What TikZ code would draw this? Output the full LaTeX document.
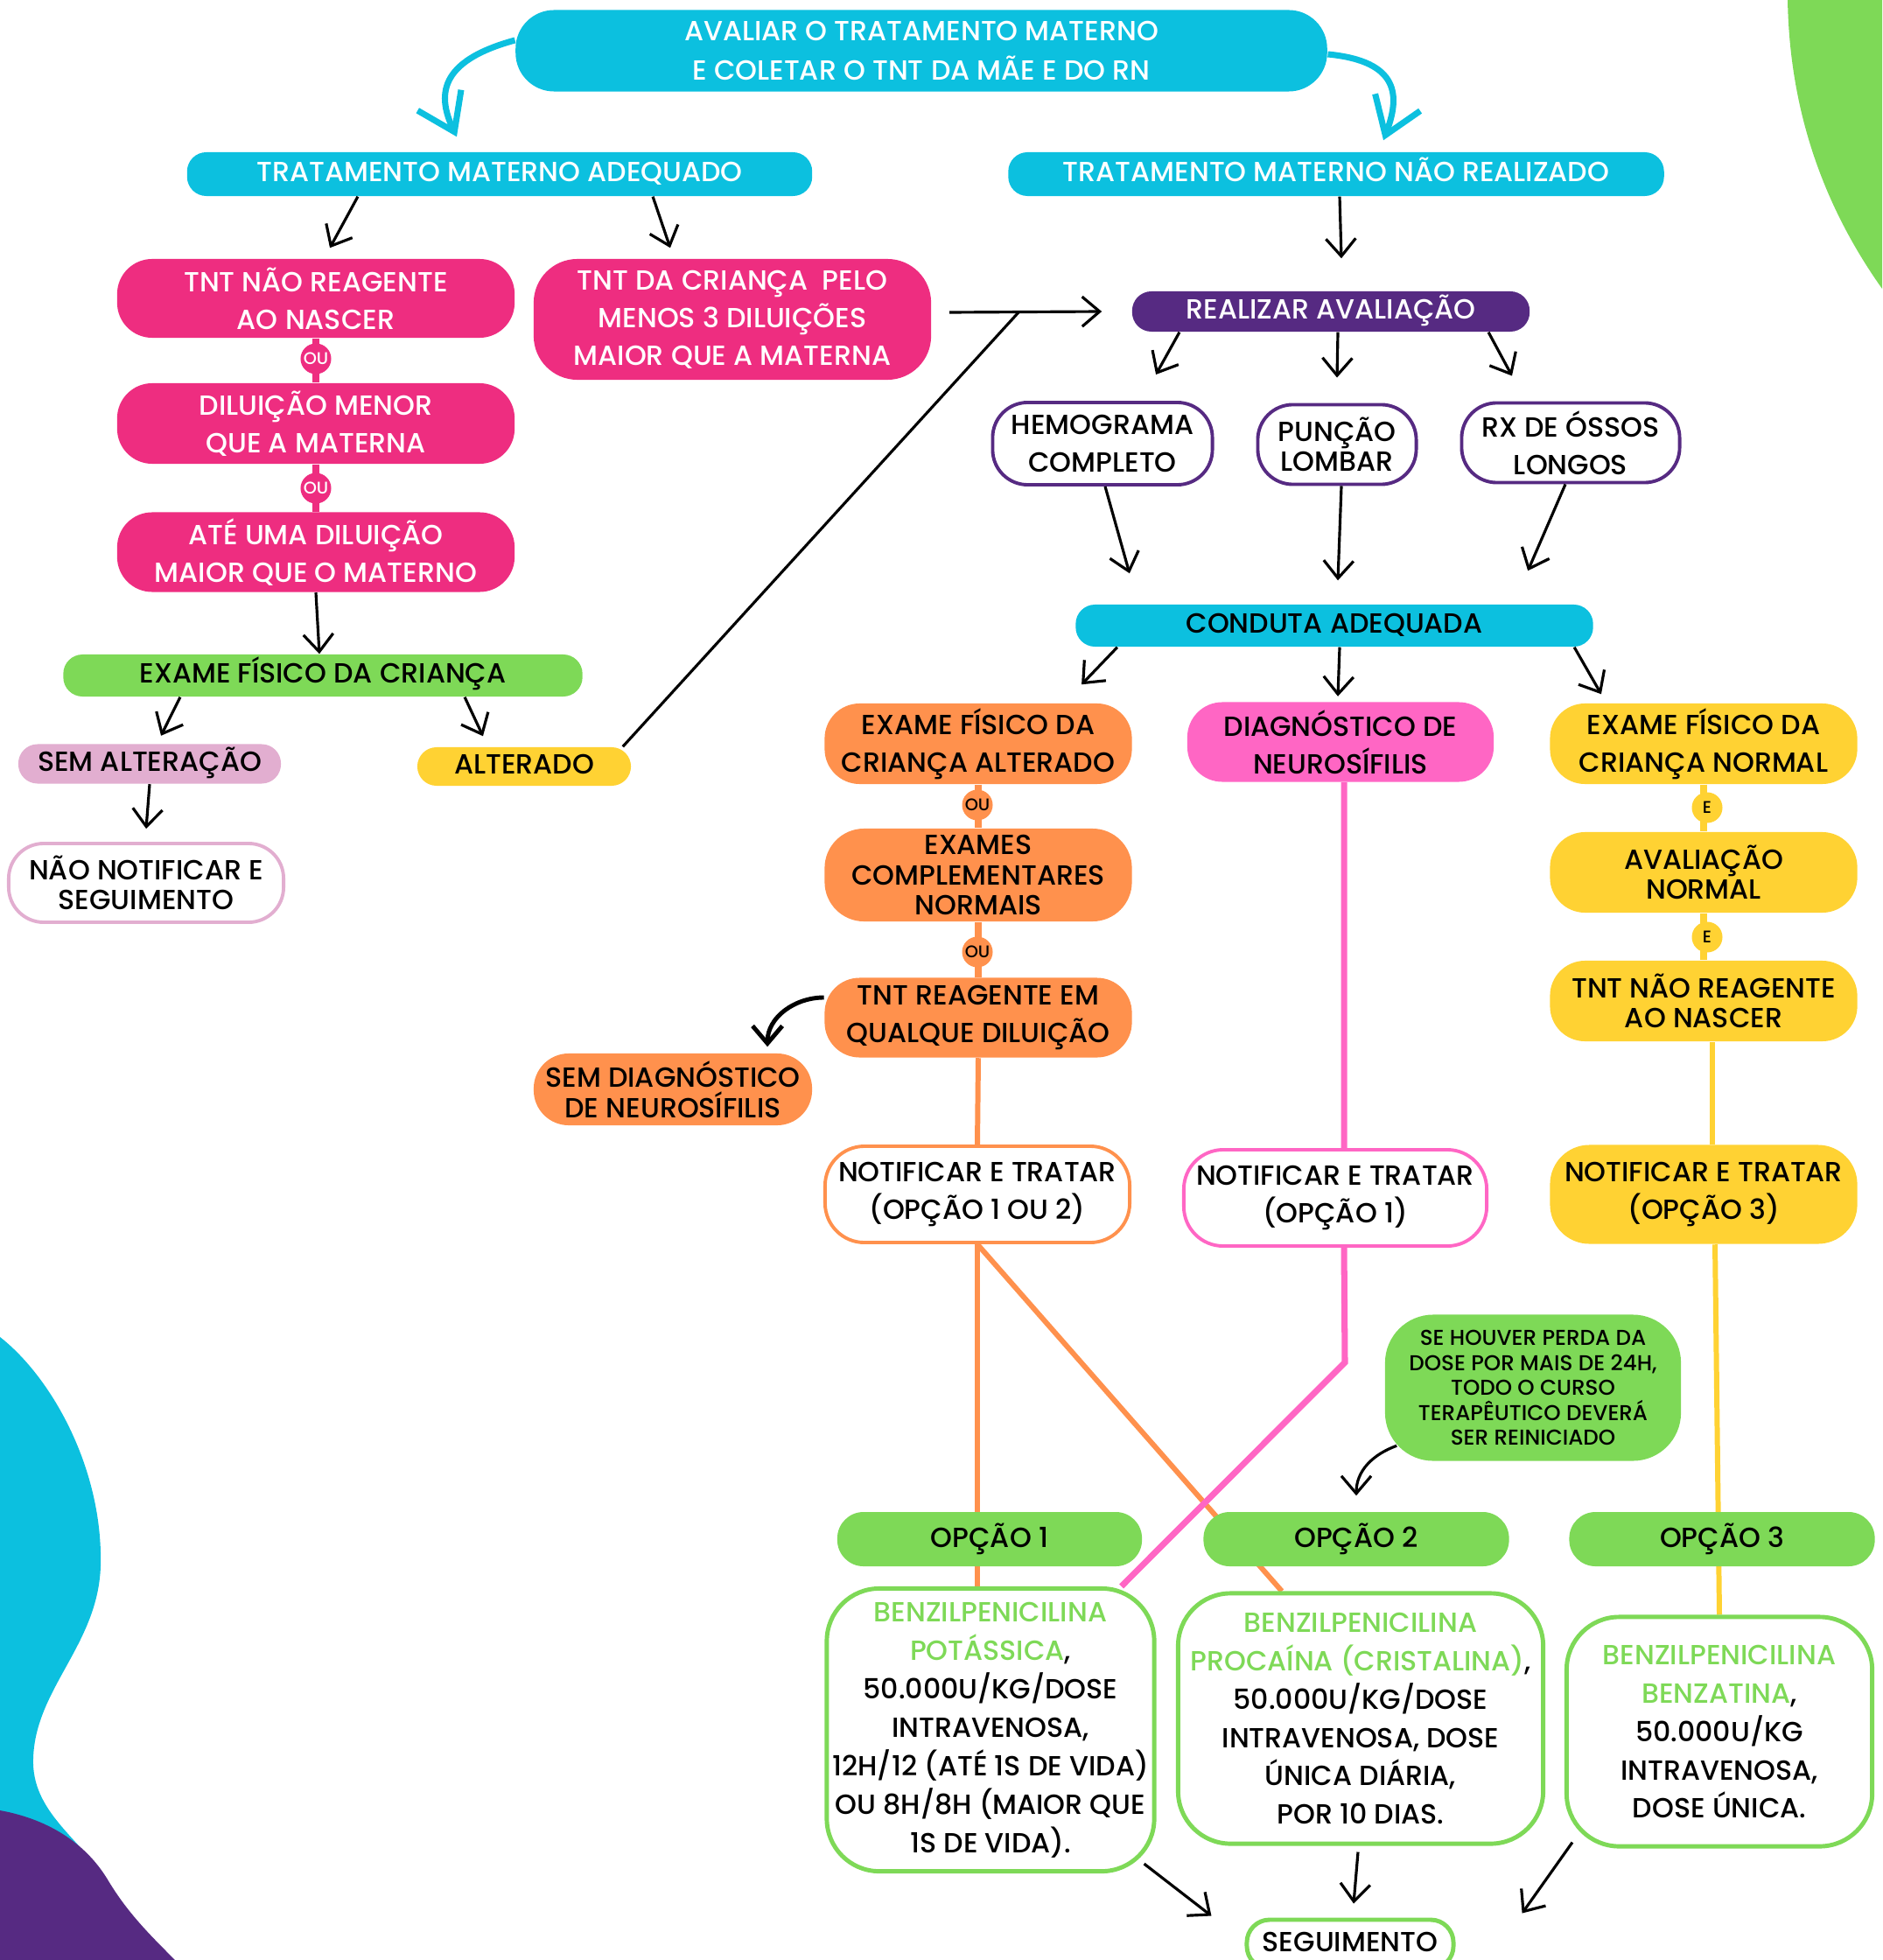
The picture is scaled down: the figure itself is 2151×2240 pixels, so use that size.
\documentclass[tikz,border=0pt]{standalone}
\usepackage{fontspec}
\setmainfont{Poppins}[UprightFont={* Medium}]
\usetikzlibrary{arrows.meta,backgrounds}

\definecolor{ciano}{HTML}{0CC0DF}
\definecolor{rosa}{HTML}{EE2D80}
\definecolor{rosaclaro}{HTML}{FF66C4}
\definecolor{verde}{HTML}{7ED957}
\definecolor{amarelo}{HTML}{FFD233}
\definecolor{laranja}{HTML}{FF914D}
\definecolor{roxo}{HTML}{562A82}
\definecolor{lilas}{HTML}{E2AED0}

\begin{document}
\begin{tikzpicture}[x=0.01cm, y=-0.01cm,
  box/.style={rectangle, rounded corners=0.4cm, align=center, inner sep=0pt, font=\fontsize{9}{12.2}\selectfont},
  pill/.style={box, rounded corners=0.22cm, text height=6.6pt, text depth=1.6pt},
  tight/.style={font=\fontsize{9}{9.8}\selectfont},
  conn/.style={circle, inner sep=0pt, minimum size=0.35cm, font=\fontsize{5.5}{6}\selectfont},
  arr/.style={draw=black, line width=0.9pt, -{Straight Barb[length=0.2cm,width=0.34cm]}},
  cyarr/.style={draw=ciano, line width=2pt, -{Straight Barb[length=0.4cm,width=0.55cm]}},
  ]
\useasboundingbox (0,0) rectangle (2151,2240);

% topo
\node[box, fill=ciano, text=white, rounded corners=0.44cm, minimum width=9.27cm, minimum height=0.93cm, font=\fontsize{9}{12.6}\selectfont] (top) at (1053,58) {AVALIAR O TRATAMENTO MATERNO\\E COLETAR O TNT DA MÃE E DO RN};
\node[pill, fill=ciano, text=white, minimum width=7.14cm, minimum height=0.5cm] (tma) at (571,199) {TRATAMENTO MATERNO ADEQUADO};
\node[pill, fill=ciano, text=white, minimum width=7.49cm, minimum height=0.5cm] (tmn) at (1527,199) {TRATAMENTO MATERNO NÃO REALIZADO};

% ramo adequado
\node[box, fill=rosa, text=white, minimum width=4.54cm, minimum height=0.9cm] (tnr) at (361,341) {TNT NÃO REAGENTE\\AO NASCER};
\node[box, fill=rosa, text=white, rounded corners=0.5cm, minimum width=4.54cm, minimum height=1.38cm] (tdc) at (837,365) {TNT DA CRIANÇA \ PELO\\MENOS 3 DILUIÇÕES\\MAIOR QUE A MATERNA};
\node[box, fill=rosa, text=white, minimum width=4.54cm, minimum height=0.92cm] (dil) at (361,484) {DILUIÇÃO MENOR\\QUE A MATERNA};
\node[box, fill=rosa, text=white, minimum width=4.54cm, minimum height=0.91cm] (ate) at (361,631) {ATÉ UMA DILUIÇÃO\\MAIOR QUE O MATERNO};
\node[conn, fill=rosa, text=white] (ou1) at (361,410) {OU};
\node[conn, fill=rosa, text=white] (ou2) at (361,558) {OU};
\node[pill, fill=verde, minimum width=5.93cm, minimum height=0.48cm] (efc) at (369,772) {EXAME FÍSICO DA CRIANÇA};
\node[pill, fill=lilas, minimum width=3.0cm, minimum height=0.45cm] (sa) at (171,873) {SEM ALTERAÇÃO};
\node[pill, fill=amarelo, minimum width=2.44cm, minimum height=0.44cm] (alt) at (599,876) {ALTERADO};
\node[box, tight, fill=white, draw=lilas, line width=1.1pt, minimum width=3.14cm, minimum height=0.9cm] (nn) at (167,1009) {NÃO NOTIFICAR E\\SEGUIMENTO};

% ramo nao realizado
\node[pill, fill=roxo, text=white, minimum width=4.54cm, minimum height=0.46cm] (real) at (1521,356) {REALIZAR AVALIAÇÃO};
\node[box, fill=white, draw=roxo, line width=1.1pt, minimum width=2.51cm, minimum height=0.94cm] (hem) at (1260,507) {HEMOGRAMA\\COMPLETO};
\node[box, tight, fill=white, draw=roxo, line width=1.1pt, minimum width=1.81cm, minimum height=0.91cm] (pun) at (1528,508) {PUNÇÃO\\LOMBAR};
\node[box, fill=white, draw=roxo, line width=1.1pt, minimum width=2.49cm, minimum height=0.91cm] (rx) at (1795,506) {RX DE ÓSSOS\\LONGOS};
\node[pill, fill=ciano, minimum width=5.91cm, minimum height=0.48cm] (cond) at (1525,715) {CONDUTA ADEQUADA};

% coluna laranja
\node[box, fill=laranja, minimum width=3.51cm, minimum height=0.92cm] (efa) at (1118,850) {EXAME FÍSICO DA\\CRIANÇA ALTERADO};
\node[box, tight, fill=laranja, rounded corners=0.45cm, minimum width=3.51cm, minimum height=1.06cm] (ece) at (1118,1000) {EXAMES\\COMPLEMENTARES\\NORMAIS};
\node[box, fill=laranja, minimum width=3.51cm, minimum height=0.91cm] (tntr) at (1118,1163) {TNT REAGENTE EM\\QUALQUE DILUIÇÃO};
\node[conn, fill=laranja] (ou3) at (1117,920) {OU};
\node[conn, fill=laranja] (ou4) at (1117,1088) {OU};
\node[box, tight, fill=laranja, minimum width=3.18cm, minimum height=0.82cm] (sdn) at (769,1245) {SEM DIAGNÓSTICO\\DE NEUROSÍFILIS};
\node[box, fill=white, draw=laranja, line width=1.1pt, rounded corners=0.45cm, minimum width=3.48cm, minimum height=1.1cm] (notif12) at (1117,1365) {NOTIFICAR E TRATAR\\(OPÇÃO 1 OU 2)};

% coluna rosa
\node[box, fill=rosaclaro, minimum width=3.5cm, minimum height=0.91cm] (diag) at (1532,848) {DIAGNÓSTICO DE\\NEUROSÍFILIS};
\node[box, fill=white, draw=rosaclaro, line width=1.1pt, rounded corners=0.45cm, minimum width=3.46cm, minimum height=1.1cm] (notif1) at (1526,1369) {NOTIFICAR E TRATAR\\(OPÇÃO 1)};

% coluna amarela
\node[box, fill=amarelo, minimum width=3.51cm, minimum height=0.92cm] (efn) at (1947,850) {EXAME FÍSICO DA\\CRIANÇA NORMAL};
\node[box, tight, fill=amarelo, minimum width=3.51cm, minimum height=0.92cm] (avn) at (1947,997) {AVALIAÇÃO\\NORMAL};
\node[box, tight, fill=amarelo, minimum width=3.51cm, minimum height=0.92cm] (tnty) at (1947,1144) {TNT NÃO REAGENTE\\AO NASCER};
\node[conn, fill=amarelo] (e1) at (1951,923) {E};
\node[conn, fill=amarelo] (e2) at (1951,1071) {E};
\node[box, fill=amarelo, rounded corners=0.45cm, minimum width=3.51cm, minimum height=1.13cm] (notif3) at (1947,1365) {NOTIFICAR E TRATAR\\(OPÇÃO 3)};

% opcoes
\node[box, fill=verde, rounded corners=0.55cm, minimum width=3.38cm, minimum height=1.67cm, font=\fontsize{7}{8.1}\selectfont] (note) at (1752,1586) {SE HOUVER PERDA DA\\DOSE POR MAIS DE 24H,\\TODO O CURSO\\TERAPÊUTICO DEVERÁ\\SER REINICIADO};
\node[box, fill=verde, rounded corners=0.3cm, minimum width=3.48cm, minimum height=0.62cm] (opc1) at (1131,1759) {OPÇÃO 1};
\node[box, fill=verde, rounded corners=0.3cm, minimum width=3.49cm, minimum height=0.62cm] (opc2) at (1550,1759) {OPÇÃO 2};
\node[box, fill=verde, rounded corners=0.3cm, minimum width=3.49cm, minimum height=0.62cm] (opc3) at (1968,1759) {OPÇÃO 3};
\node[box, fill=white, draw=verde, line width=1.4pt, rounded corners=0.6cm, minimum width=3.74cm, minimum height=3.23cm, font=\fontsize{9}{12.5}\selectfont] (ben1) at (1132,1977) {\textcolor{verde}{BENZILPENICILINA}\\\textcolor{verde}{POTÁSSICA},\\50.000U/KG/DOSE\\INTRAVENOSA,\\12H/12 (ATÉ 1S DE VIDA)\\OU 8H/8H (MAIOR QUE\\1S DE VIDA).};
\node[box, fill=white, draw=verde, line width=1.4pt, rounded corners=0.6cm, minimum width=4.17cm, minimum height=2.86cm, font=\fontsize{9}{12.5}\selectfont] (ben2) at (1555,1964) {\textcolor{verde}{BENZILPENICILINA}\\\textcolor{verde}{PROCAÍNA (CRISTALINA)},\\50.000U/KG/DOSE\\INTRAVENOSA, DOSE\\ÚNICA DIÁRIA,\\POR 10 DIAS.};
\node[box, fill=white, draw=verde, line width=1.4pt, rounded corners=0.6cm, minimum width=3.49cm, minimum height=2.62cm, font=\fontsize{9}{12.5}\selectfont] (ben3) at (1965,1979) {\textcolor{verde}{BENZILPENICILINA}\\\textcolor{verde}{BENZATINA},\\50.000U/KG\\INTRAVENOSA,\\DOSE ÚNICA.};
\node[pill, fill=white, draw=verde, line width=1.4pt, rounded corners=0.26cm, minimum width=2.36cm, minimum height=0.56cm] (seg) at (1543,2222) {SEGUIMENTO};

\coordinate (junc) at (1164,357);
\coordinate (hstart) at (1085,357);
\coordinate (bend) at (1537,1557);

% fundo e linhas coloridas
\begin{scope}[on background layer]
\fill[verde] (2043,0) .. controls (2045,120) and (2080,230) .. (2151,330) -- (2151,0) -- cycle;
\fill[ciano] (0,1528) .. controls (60,1575) and (118,1680) .. (115,1790) .. controls (112,1880) and (40,1930) .. (38,2010) .. controls (36,2070) and (90,2100) .. (123,2150) -- (180,2240) -- (0,2240) -- cycle;
\fill[roxo] (0,2069) .. controls (60,2080) and (100,2110) .. (123,2148) .. controls (145,2185) and (170,2210) .. (200,2240) -- (0,2240) -- cycle;
\draw[rosa, line width=2.3pt] (tnr) -- (dil) -- (ate);
\draw[laranja, line width=2.3pt] (efa) -- (ece) -- (tntr);
\draw[amarelo, line width=2.3pt] (efn) -- (avn) -- (tnty);
\draw[laranja, line width=1.7pt] (tntr.south) -- (notif12.north);
\draw[laranja, line width=1.7pt] (notif12.south) -- (notif12.south |- ben1.north);
\draw[laranja, line width=1.7pt] (notif12.south) -- ([xshift=-0.9cm]ben2.north);
\draw[rosaclaro, line width=2pt] ([xshift=0.04cm]diag.south) -- ([xshift=0.1cm]notif1.north);
\draw[rosaclaro, line width=2pt] ([xshift=0.1cm]notif1.south) -- (bend) -- ([xshift=-0.4cm]ben1.north east);
\draw[amarelo, line width=1.7pt] ([xshift=0.1cm]tnty.south) -- ([xshift=0.1cm]notif3.north);
\draw[amarelo, line width=1.7pt] ([xshift=0.13cm]notif3.south) -- (ben3.north);
\end{scope}

% setas azuis
\draw[cyarr] ([yshift=0.12cm]top.west) .. controls (500,70) and (500,110) .. ([xshift=-0.49cm,yshift=0.17cm]tma.north);
\draw[cyarr] ([yshift=-0.04cm]top.east) .. controls (1600,70) and (1600,110) .. ([xshift=0.54cm,yshift=0.13cm]tmn.north);

% setas pretas
\draw[arr] ([xshift=-1.62cm]tma.south) -- ([xshift=0.16cm,yshift=0.12cm]tnr.north);
\draw[arr] ([xshift=1.75cm]tma.south) -- ([xshift=-0.71cm,yshift=0.12cm]tdc.north);
\draw[arr] (ate.south) -- ([xshift=-0.04cm]efc.north);
\draw[arr] ([xshift=-1.63cm]efc.south) -- ([xshift=0.13cm,yshift=0.09cm]sa.north);
\draw[arr] ([xshift=1.62cm]efc.south) -- ([xshift=-0.47cm,yshift=0.12cm]alt.north);
\draw[arr] (sa.south) -- ([yshift=0.15cm]nn.north);
\draw[line width=0.9pt] ([xshift=-0.1cm]alt.north east) -- (junc);
\draw[arr] (hstart) -- ([xshift=-0.34cm]real.west);
\draw[arr] ([xshift=0.04cm]tmn.south) -- ([xshift=0.12cm,yshift=0.37cm]real.north);
\draw[arr] ([xshift=-1.73cm]real.south) -- ([xshift=0.61cm,yshift=0.3cm]hem.north);
\draw[arr] ([xshift=0.08cm]real.south) -- ([yshift=0.29cm]pun.north);
\draw[arr] ([xshift=1.8cm]real.south) -- ([xshift=-0.67cm,yshift=0.29cm]rx.north);
\draw[arr] ([xshift=0.03cm]hem.south) -- ([xshift=-2.34cm,yshift=0.35cm]cond.north);
\draw[arr] ([xshift=0.05cm]pun.south) -- ([xshift=0.04cm,yshift=0.27cm]cond.north);
\draw[arr] ([xshift=-0.06cm]rx.south) -- ([xshift=2.21cm,yshift=0.38cm]cond.north);
\draw[arr] ([xshift=-2.48cm]cond.south) -- ([xshift=1.18cm,yshift=0.21cm]efa.north);
\draw[arr] ([xshift=0.06cm]cond.south) -- ([xshift=-0.03cm,yshift=0.06cm]diag.north);
\draw[arr] ([xshift=2.74cm]cond.south) -- ([xshift=-1.17cm,yshift=0.1cm]efn.north);
\draw[arr, line width=1.4pt] ([yshift=0.23cm]tntr.west) to[out=180,in=90] ([xshift=1.08cm,yshift=0.07cm]sdn.north);
\draw[arr] ([xshift=0.14cm,yshift=0.18cm]note.south west) to[out=200,in=90] ([yshift=0.18cm]opc2.north);
\draw[arr] ([xshift=-0.14cm,yshift=0.11cm]ben1.south east) -- ([xshift=-0.38cm,yshift=0.02cm]seg.north west);
\draw[arr] ([xshift=-0.03cm,yshift=-0.07cm]ben2.south) -- ([xshift=0.04cm,yshift=0.16cm]seg.north);
\draw[arr] ([xshift=0.09cm,yshift=0.07cm]ben3.south west) -- ([xshift=0.76cm,yshift=0.05cm]seg.north east);
\end{tikzpicture}
\end{document}
